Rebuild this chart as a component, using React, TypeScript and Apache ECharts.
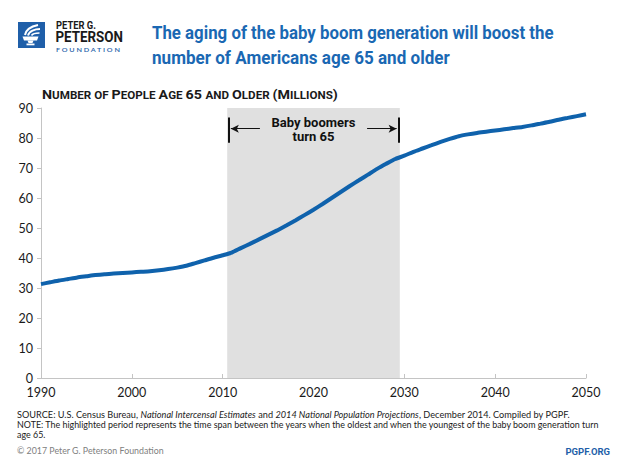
import React, { useEffect, useRef } from "react";
import * as echarts from "echarts";

const years: number[] = [
  1990, 1991, 1992, 1993, 1994, 1995, 1996, 1997, 1998, 1999,
  2000, 2001, 2002, 2003, 2004, 2005, 2006, 2007, 2008, 2009,
  2010, 2011, 2012, 2013, 2014, 2015, 2016, 2017, 2018, 2019,
  2020, 2021, 2022, 2023, 2024, 2025, 2026, 2027, 2028, 2029,
  2030, 2031, 2032, 2033, 2034, 2035, 2036, 2037, 2038, 2039,
  2040, 2041, 2042, 2043, 2044, 2045, 2046, 2047, 2048, 2049, 2050,
];
const peopleMillions: number[] = [
  31.3, 31.9, 32.5, 33.0, 33.5, 33.9, 34.3, 34.6, 34.8, 35.0,
  35.2, 35.4, 35.6, 35.9, 36.3, 36.8, 37.4, 38.3, 39.2, 40.1,
  40.9, 41.8, 43.3, 44.7, 46.2, 47.7, 49.2, 50.8, 52.5, 54.3,
  56.1, 58.0, 60.0, 62.0, 64.0, 65.9, 67.8, 69.7, 71.4, 73.0,
  74.1, 75.4, 76.5, 77.6, 78.7, 79.7, 80.6, 81.2, 81.7, 82.1,
  82.5, 82.9, 83.3, 83.7, 84.2, 84.8, 85.4, 86.1, 86.7, 87.3, 87.9,
];
const boomStart = 2010.5;
const boomEnd = 2029.5;
const yTicks = { min: 0, max: 90, interval: 10 };
const xTicks = { min: 1990, max: 2050, interval: 10 };

const TITLE_LINES = [
  "The aging of the baby boom generation will boost the",
  "number of Americans age 65 and older",
];
const SUBTITLE_PARTS = [
  { t: "N", b: true }, { t: "UMBER OF ", b: false },
  { t: "P", b: true }, { t: "EOPLE ", b: false },
  { t: "A", b: true }, { t: "GE ", b: false },
  { t: "65 ", b: true }, { t: "AND ", b: false },
  { t: "O", b: true }, { t: "LDER ", b: false },
  { t: "(M", b: true }, { t: "ILLIONS", b: false },
  { t: ")", b: true },
];
const SOURCE_PARTS = [
  { t: "SOURCE: U.S. Census Bureau, ", i: false },
  { t: "National Intercensal Estimates", i: true },
  { t: " and ", i: false },
  { t: "2014 National Population Projections", i: true },
  { t: ", December 2014. Compiled by PGPF.", i: false },
];
const NOTE_LINES = [
  "NOTE: The highlighted period represents the time span between the years when the oldest and when the youngest of the baby boom generation turn",
  "age 65.",
];

const BLUE = "#0f62ac";
const COND = "Roboto, 'Noto Sans', sans-serif";
const BODY = "Lato, 'Noto Sans', sans-serif";

let ctx: CanvasRenderingContext2D | null = null;
function measure(text: string, font: string): number {
  if (!ctx) ctx = document.createElement("canvas").getContext("2d");
  if (!ctx) return text.length * 6;
  ctx.font = font;
  return ctx.measureText(text).width;
}

function fitText(text: string, font: string, x: number, y: number, width: number, fill: string, extra: any = {}) {
  const w = measure(text, font);
  return {
    type: "text",
    x,
    y,
    scaleX: width / w,
    style: { text, font, fill, verticalAlign: "top", align: "left", ...extra },
  };
}

export default function App() {
  const ref = useRef<HTMLDivElement>(null);
  useEffect(() => {
    if (!ref.current) return;
    const chart = echarts.init(ref.current, undefined, { renderer: "svg" });
    const lineData = years.map((y, i) => [y, peopleMillions[i]]);

    const footFont = "9.5px " + BODY;
    const footItal = "italic 9.5px " + BODY;
    const srcW = SOURCE_PARTS.reduce((a, p) => a + measure(p.t, p.i ? footItal : footFont), 0);
    const srcText = SOURCE_PARTS.map((p) => (p.i ? "{i|" + p.t + "}" : p.t)).join("");
    const noteScale = 583 / measure(NOTE_LINES[0], footFont);

    const subBig = "bold 13.5px " + COND;
    const subSmall = "bold 11px " + COND;
    const subW = SUBTITLE_PARTS.reduce((a, p) => a + measure(p.t, p.b ? subBig : subSmall), 0);
    const subText = SUBTITLE_PARTS.map((p) => "{" + (p.b ? "b" : "s") + "|" + p.t + "}").join("");

    const titleFont = "bold 18.5px " + COND;

    const option: any = {
      animation: false,
      backgroundColor: "#ffffff",
      grid: { left: 41, right: 34, top: 108, bottom: 87, containLabel: false },
      xAxis: {
        type: "value",
        min: xTicks.min,
        max: xTicks.max,
        interval: xTicks.interval,
        axisLine: { show: true, lineStyle: { color: "#c4c4c4", width: 1 } },
        axisTick: { show: true, length: 4, inside: true, lineStyle: { color: "#c4c4c4" } },
        axisLabel: { color: "#1a1a1a", fontSize: 12.5, fontFamily: BODY, margin: 8, formatter: (v: number) => String(v) },
        splitLine: { show: false },
      },
      yAxis: {
        type: "value",
        min: yTicks.min,
        max: yTicks.max,
        interval: yTicks.interval,
        axisLine: { show: true, lineStyle: { color: "#c4c4c4", width: 1 } },
        axisTick: { show: true, length: 4, lineStyle: { color: "#c4c4c4" } },
        axisLabel: { color: "#1a1a1a", fontSize: 12.5, fontFamily: BODY, margin: 8 },
        splitLine: { show: false },
      },
      series: [
        {
          type: "line",
          data: [],
          silent: true,
          z: 1,
          markArea: {
            silent: true,
            itemStyle: { color: "#e0e0e0" },
            label: {
              show: true,
              position: "insideTop",
              distance: 7,
              formatter: "Baby boomers\nturn 65",
              color: "#111",
              fontSize: 13,
              fontWeight: "bold",
              fontFamily: COND,
              lineHeight: 14,
              align: "center",
            },
            data: [[{ xAxis: boomStart }, { xAxis: boomEnd }]],
          },
          markLine: {
            silent: true,
            symbol: ["none", "none"],
            label: { show: false },
            lineStyle: { color: "#111", type: "solid", width: 1 },
            data: [
              [
                { coord: [boomStart + 0.15, 86.8], symbol: "none", lineStyle: { width: 2 } },
                { coord: [boomStart + 0.15, 78.4], symbol: "none" },
              ],
              [
                { coord: [boomEnd - 0.1, 86.8], symbol: "none", lineStyle: { width: 2 } },
                { coord: [boomEnd - 0.1, 78.4], symbol: "none" },
              ],
              [
                { coord: [2014.1, 83.1], symbol: "none" },
                { coord: [boomStart + 0.4, 83.1], symbol: "arrow", symbolSize: [6, 8] },
              ],
              [
                { coord: [2025.9, 83.1], symbol: "none" },
                { coord: [boomEnd - 0.35, 83.1], symbol: "arrow", symbolSize: [6, 8] },
              ],
            ],
          },
        },
        {
          type: "line",
          data: lineData,
          z: 3,
          showSymbol: false,
          smooth: 0.2,
          lineStyle: { color: BLUE, width: 4 },
          itemStyle: { color: BLUE },
          silent: true,
        },
      ],
      graphic: [
        // logo
        { type: "rect", shape: { x: 18, y: 22, width: 27, height: 26 }, style: { fill: "#1f5fa9" } },
        { type: "polygon", shape: { points: [[22.5, 36.5], [38.5, 36.5], [37, 40.5], [24, 40.5]] }, style: { fill: "#fff" } },
        { type: "polygon", shape: { points: [[27.5, 40.5], [33.5, 40.5], [32.5, 43], [28.5, 43]] }, style: { fill: "#fff" } },
        { type: "rect", shape: { x: 26.5, y: 43.5, width: 8, height: 1.8 }, style: { fill: "#fff" } },
        { type: "bezierCurve", shape: { x1: 25, y1: 35, x2: 38, y2: 25, cpx1: 26, cpy1: 29, cpx2: 33, cpy2: 26 }, style: { stroke: "#fff", lineWidth: 2, fill: "none" } },
        { type: "bezierCurve", shape: { x1: 28, y1: 35.5, x2: 40, y2: 29, cpx1: 29, cpy1: 31, cpx2: 35, cpy2: 29 }, style: { stroke: "#fff", lineWidth: 2, fill: "none" } },
        { type: "bezierCurve", shape: { x1: 31.5, y1: 35.5, x2: 39.5, y2: 33, cpx1: 33, cpy1: 33, cpx2: 36, cpy2: 33 }, style: { stroke: "#fff", lineWidth: 1.6, fill: "none" } },
        fitText("PETER G.", "bold 11px " + COND, 56, 19.5, 40, "#1a1a1a"),
        fitText("PETERSON", "bold 15.5px " + COND, 55.5, 29.5, 67.5, "#1a1a1a"),
        fitText("F O U N D A T I O N", "600 6.5px " + BODY, 56, 45.5, 65, "#1f5fa9"),
        // title
        fitText(TITLE_LINES[0], titleFont, 152, 23.5, 402, "#1a68b3"),
        fitText(TITLE_LINES[1], titleFont, 152, 47.5, 298, "#1a68b3"),
        // subtitle small caps
        {
          type: "text",
          x: 42,
          y: 86,
          scaleX: 296 / subW,
          style: {
            text: subText,
            verticalAlign: "top",
            rich: {
              b: { fontSize: 13.5, fontWeight: "bold", fontFamily: COND, fill: "#1a1a1a", verticalAlign: "bottom", lineHeight: 15 },
              s: { fontSize: 11, fontWeight: "bold", fontFamily: COND, fill: "#1a1a1a", verticalAlign: "bottom", lineHeight: 15 },
            },
          },
        },
        // footer
        {
          type: "text",
          x: 17,
          y: 409,
          scaleX: 553 / srcW,
          style: {
            text: srcText,
            font: footFont,
            fill: "#1a1a1a",
            verticalAlign: "top",
            rich: { i: { fontStyle: "italic", fontSize: 9.5, fontFamily: BODY, fill: "#1a1a1a" } },
          },
        },
        { type: "text", x: 17, y: 419.5, scaleX: noteScale, style: { text: NOTE_LINES[0], font: footFont, fill: "#1a1a1a", verticalAlign: "top" } },
        { type: "text", x: 17, y: 429.5, scaleX: noteScale, style: { text: NOTE_LINES[1], font: footFont, fill: "#1a1a1a", verticalAlign: "top" } },
        fitText("© 2017 Peter G. Peterson Foundation", "9px " + BODY, 17, 446, 147, "#808080"),
        { type: "text", x: 610, y: 446, style: { text: "PGPF.ORG", font: "bold 9.5px " + COND, fill: "#1f5fa9", align: "right", verticalAlign: "top" } },
      ],
    };
    chart.setOption(option);
    return () => chart.dispose();
  }, []);
  return <div ref={ref} style={{ width: 620, height: 465, position: "absolute", left: 0, top: 0 }} />;
}
